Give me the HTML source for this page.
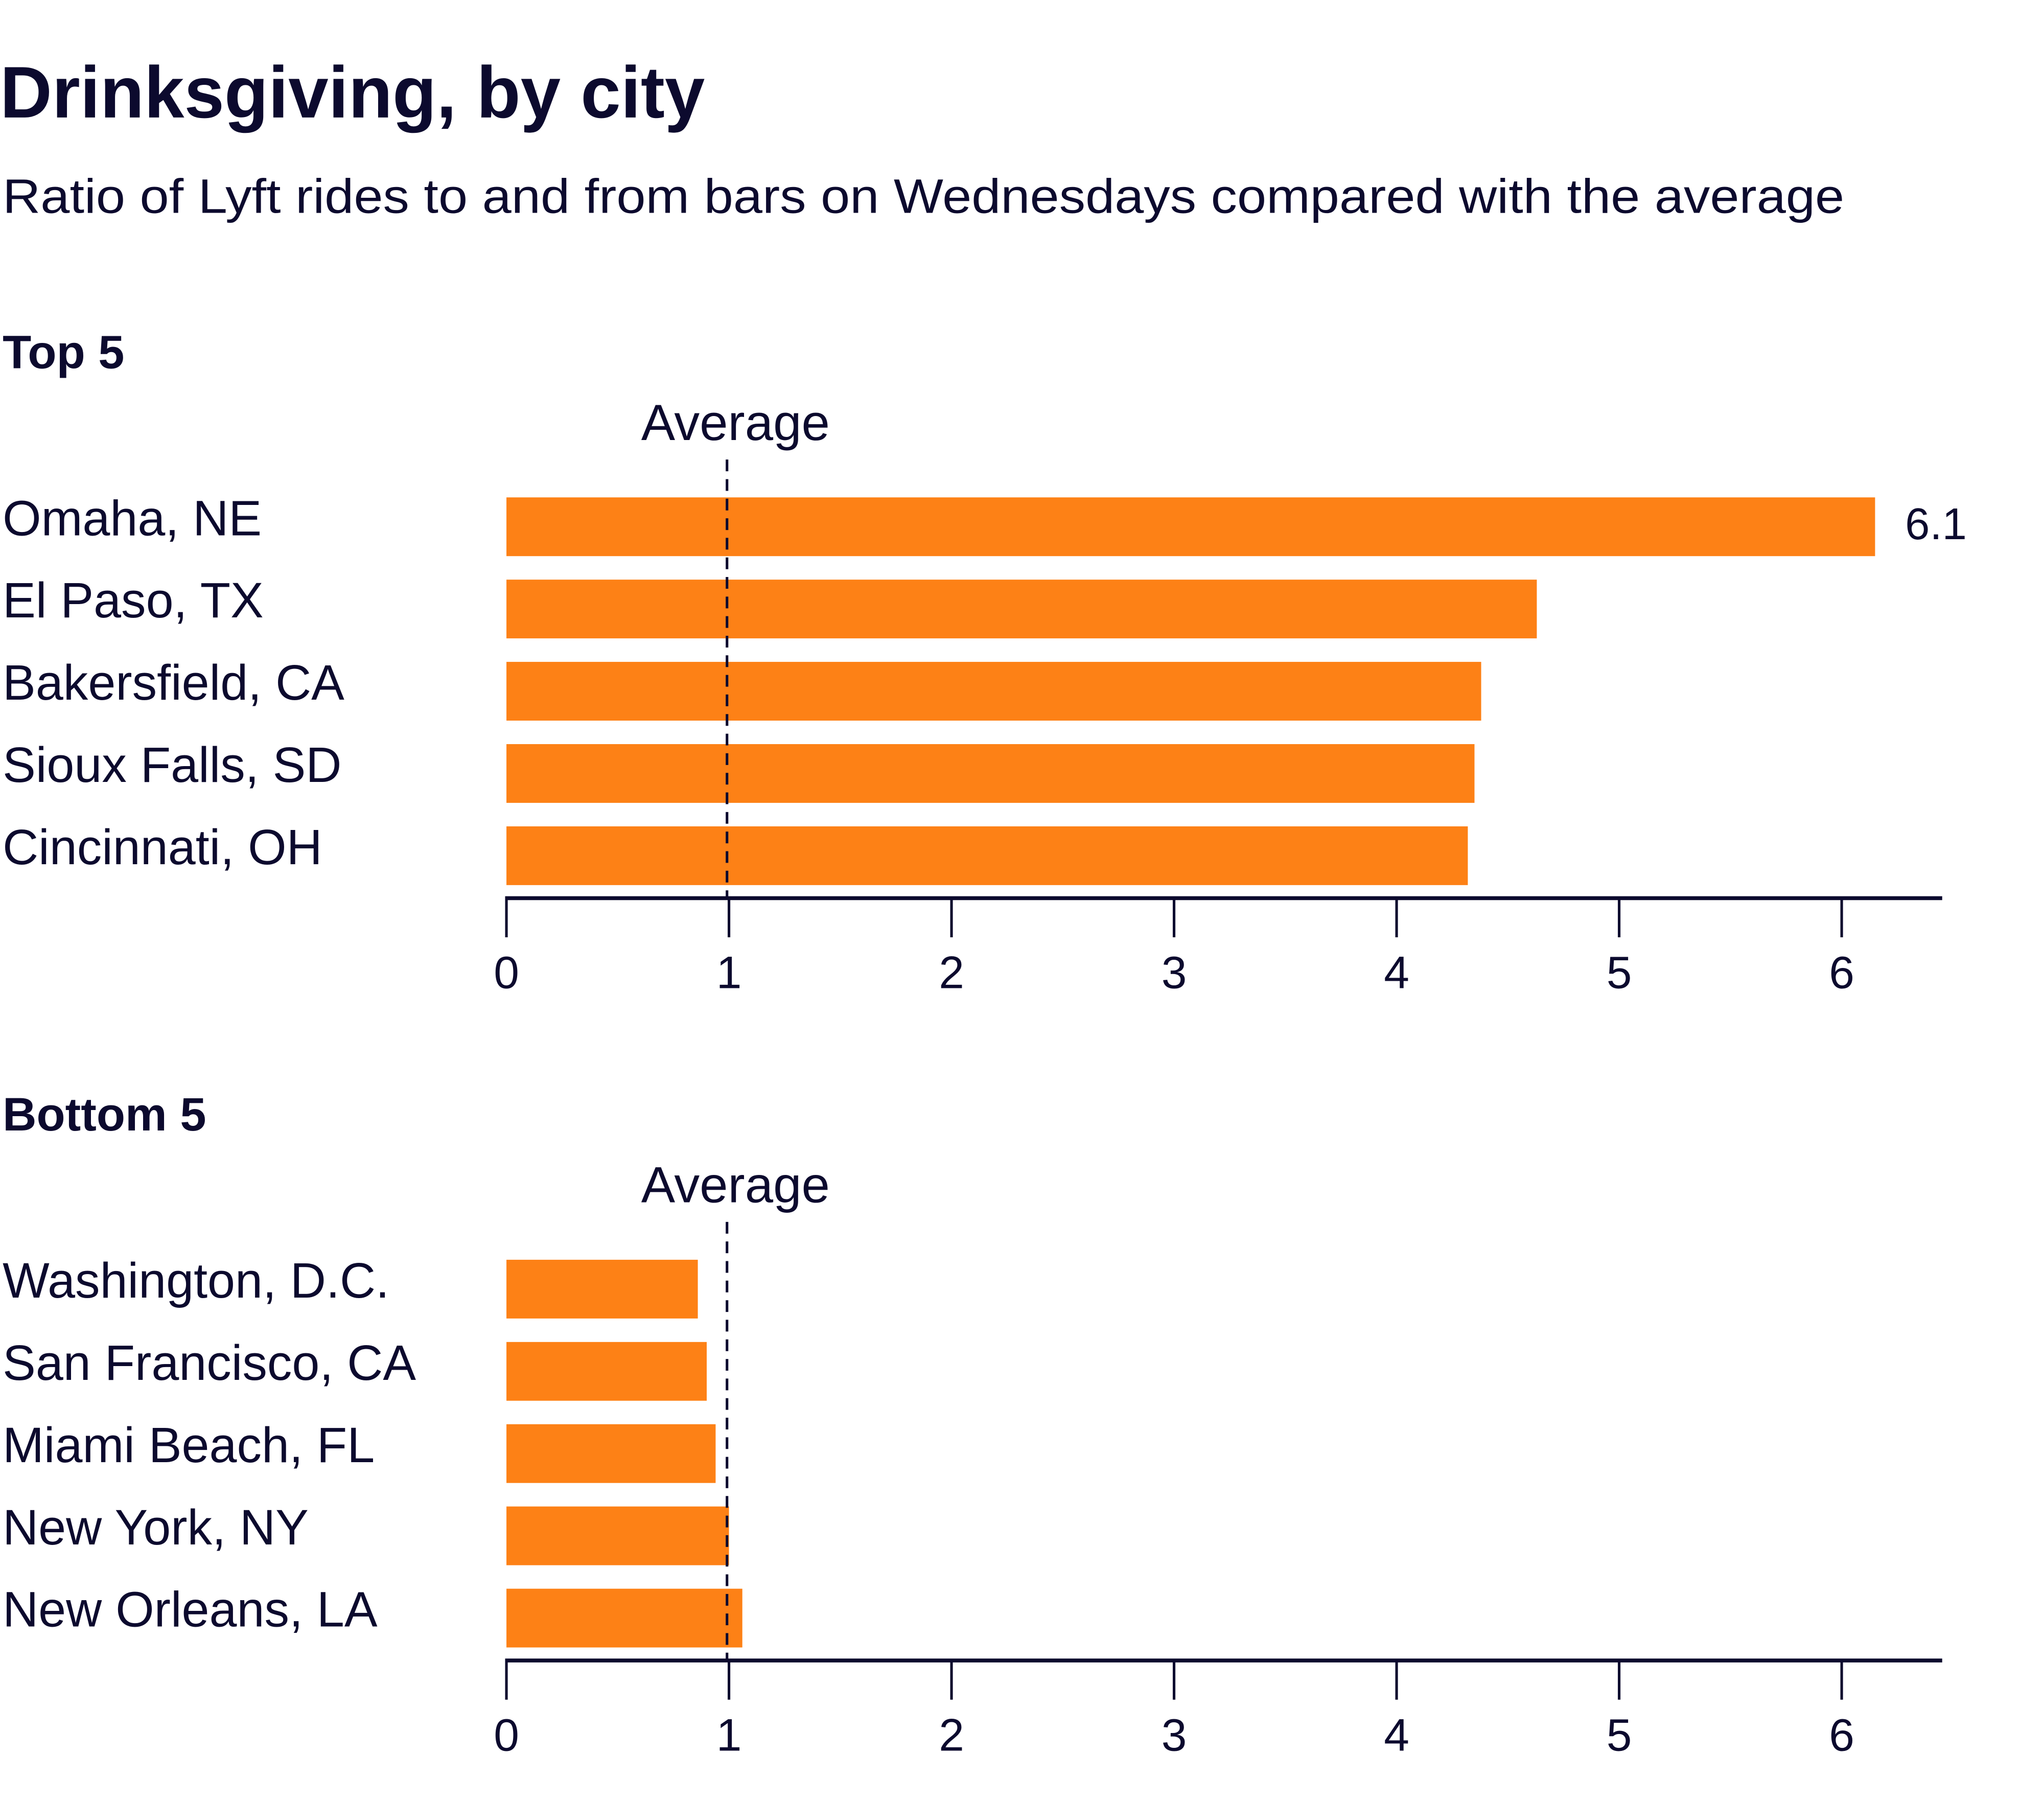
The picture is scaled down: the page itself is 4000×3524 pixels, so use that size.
<!DOCTYPE html>
<html><head><meta charset="utf-8"><style>html,body{margin:0;padding:0;background:#fff}svg{display:block}text{font-family:"Liberation Sans",sans-serif;fill:#0c0a2e}</style></head>
<body>
<svg id="chart" width="4000" height="3524" viewBox="0 0 1566 1379.6" xmlns="http://www.w3.org/2000/svg">
<rect width="1566" height="1379.6" fill="#fff"/>
<text x="0" y="90" font-size="56" font-weight="bold" textLength="540" lengthAdjust="spacingAndGlyphs">Drinksgiving, by city</text>
<text x="2" y="163" font-size="37" textLength="1411" lengthAdjust="spacingAndGlyphs">Ratio of Lyft rides to and from bars on Wednesdays compared with the average</text>
<g id="g1"></g><g id="g2"></g>
</svg>
<script>
const topCities=["Omaha, NE","El Paso, TX","Bakersfield, CA","Sioux Falls, SD","Cincinnati, OH"];
const topValues=[6.15,4.63,4.38,4.35,4.32];
const topValueLabel="6.1";
const bottomCities=["Washington, D.C.","San Francisco, CA","Miami Beach, FL","New York, NY","New Orleans, LA"];
const bottomValues=[0.86,0.90,0.94,1.00,1.06];
const tickValues=[0,1,2,3,4,5,6];
const averageValue=1;
const NS="http://www.w3.org/2000/svg";
const x=v=>388+v*170.5;
function mk(p,t,a){const e=document.createElementNS(NS,t);for(const k in a)e.setAttribute(k,a[k]);p.appendChild(e);return e;}
function panel(g,title,cities,values,y0,prefix,showTop){
  const t=mk(g,"text",{x:2,y:y0,"font-size":36,"font-weight":"bold"});t.textContent=title;
  
  
  const barTop=y0+99, axisY=y0+406;
  cities.forEach((c,i)=>{
    const by=barTop+i*63;
    const r=mk(g,"rect",{x:x(0),y:by,width:x(values[i])-x(0),height:45,fill:"#fd8116"});
    
    
    const l=mk(g,"text",{x:2,y:by+29,"font-size":38});l.textContent=c;
    
    
    if(showTop&&i===0){const v=mk(g,"text",{x:x(values[i])+23,y:by+32,"font-size":34});v.textContent=topValueLabel;
      
      }
  });
  const d=mk(g,"line",{x1:x(averageValue)-1.5,x2:x(averageValue)-1.5,y1:barTop-29,y2:axisY,stroke:"#0c0a2e","stroke-width":2,"stroke-dasharray":"9,6"});
  
  
  const al=mk(g,"text",{x:x(averageValue)+5,y:barTop-44,"font-size":39,"text-anchor":"middle"});al.textContent="Average";
  
  
  const ax=mk(g,"line",{x1:387,x2:1488,y1:axisY,y2:axisY,stroke:"#0c0a2e","stroke-width":3});
  
  
  tickValues.forEach(v=>{
    const tk=mk(g,"line",{x1:x(v),x2:x(v),y1:axisY,y2:axisY+30,stroke:"#0c0a2e","stroke-width":2});
    
    
    const tl=mk(g,"text",{x:x(v),y:axisY+69,"font-size":35,"text-anchor":"middle"});tl.textContent=String(v);
    
    
  });
}
panel(document.getElementById("g1"),"Top 5",topCities,topValues,282,"top5",true);
panel(document.getElementById("g2"),"Bottom 5",bottomCities,bottomValues,866,"bottom5",false);
</script>
</body></html>
